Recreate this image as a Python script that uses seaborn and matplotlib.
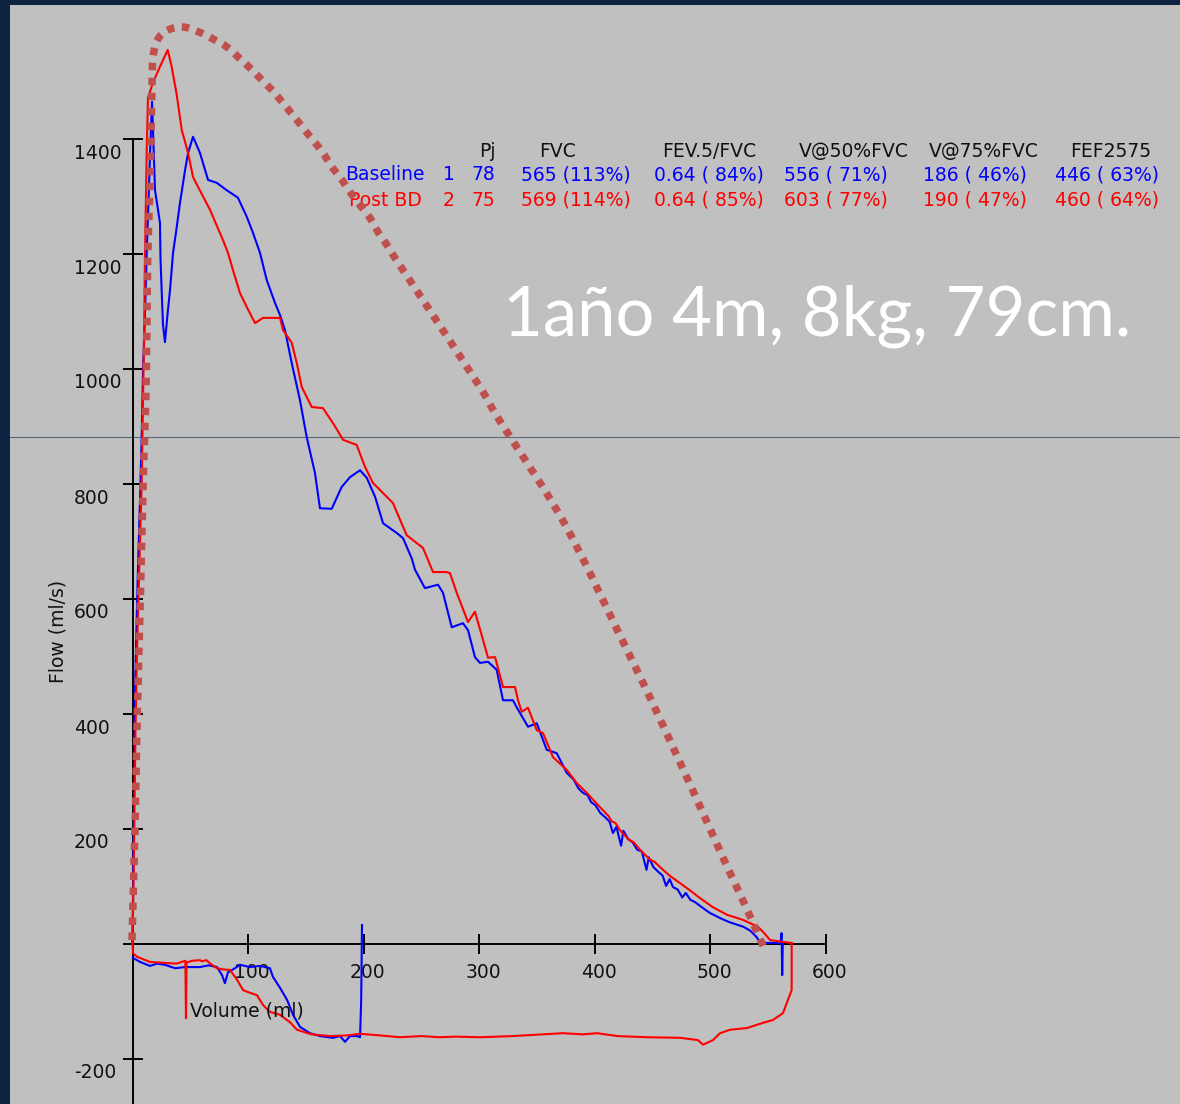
import numpy as np
import pandas as pd
import matplotlib
matplotlib.use("Agg")
import matplotlib.pyplot as plt
import matplotlib.transforms as mtransforms
import seaborn as sns

# ---------------- spirometry loops (volume in ml, flow in ml/s) ----------------
baseline_exp_vol = [0, 0.9, 1.7, 2.2, 3.6, 4.8, 6.5, 8.0, 9.1, 10.4, 12.3, 13.9, 15.2, 16.9,
                    19.5, 23.8, 24.2, 25.3, 26.4, 28.1, 30.7, 32.5, 35.1, 38.3, 41.1, 45.5,
                    48.1, 52.4, 58.4, 65.4, 72.9, 81.6, 91.3, 98.9, 104.3, 110.4, 116.2,
                    123.4, 127.7, 132.0, 137.8, 145.0, 150.8, 158.0, 162.3, 172.5, 181.1,
                    188.3, 197.0, 202.8, 210.0, 216.9, 228.7, 234.2, 241.7, 244.6, 253.2,
                    264.5, 268.8, 276.4, 286.1, 290.5, 296.5, 300.9, 307.8, 315.3, 320.8,
                    329.4, 332.6, 342.4, 350.0, 358.6, 367.3, 375.9, 382, 386, 390, 394,
                    397, 401, 405, 409, 413, 416, 419, 423, 425, 429, 433, 437, 441, 445,
                    447, 451, 455, 459, 462, 465, 468, 472, 476, 479, 483, 487, 491, 495,
                    500, 505, 510, 517, 523, 529, 535, 540, 543, 548, 556, 561, 562, 562.5, 563]
baseline_exp_flow = [0, 163, 371, 441, 563, 658, 771, 884, 997, 1067, 1201, 1293, 1375, 1464,
                     1310, 1253, 1194, 1133, 1076, 1046, 1102, 1137, 1201, 1246, 1288, 1345,
                     1375, 1403, 1375, 1328, 1323, 1310, 1297, 1264, 1236, 1201, 1154,
                     1114, 1093, 1067, 1010, 945, 881, 818, 757, 756, 794,
                     811, 823, 810, 777, 731, 714, 705, 670, 650, 618,
                     624, 610, 550, 557, 545, 498, 488, 490, 476, 423,
                     423, 411, 377, 383, 337, 331, 297, 285, 270, 262, 258,
                     246, 240, 227, 220, 212, 192, 203, 170, 196, 182, 176, 163, 160, 128,
                     150, 133, 125, 118, 100, 112, 98, 94, 80, 88, 76, 72, 66, 60,
                     53, 48, 43, 37, 33, 29, 22, 12, 3, 1, 1, 0, 18, -55, 0]

baseline_insp_vol = [0.4, 6.5, 15.2, 21, 28, 36.8, 45.5, 58.4, 66, 73.2, 77.5, 80, 82.7, 88.7,
                     93, 101.7, 110.4, 119, 121.6, 127.7, 133.8, 139, 145, 153.7, 162.3,
                     173.6, 179.7, 184, 188.3, 194.4, 197, 198, 198.7]
baseline_insp_flow = [-25, -32, -39, -35, -37, -43, -41, -41, -38, -41, -55, -69, -50, -43,
                      -37, -41, -39, -43, -58, -77, -98, -124, -145, -156, -161,
                      -164, -161, -171, -161, -161, -163, -98, 32]

postbd_exp_vol = [0, 1.3, 2.6, 3.9, 5.6, 8.0, 9.4, 10.4, 10.8, 12.3, 13.4, 17.7, 23.8, 30.5,
                  33.9, 38.3, 42.6, 48.1, 52.4, 56.7, 67.1, 78.4, 82.7, 87.0, 93.1, 98.9,
                  106.1, 113.0, 119.0, 127.7, 130.3, 137.8, 142.2, 146.5, 155.2, 164.9,
                  173.6, 182.3, 194.1, 201.3, 208.2, 225.5, 237.4, 251.5, 260.2, 272.0,
                  274.9, 280.7, 290.5, 296.5, 303.5, 307.8, 313.9, 320.8, 331.2, 333.8,
                  337.0, 342.4, 350.0, 355.4, 364.1, 375.9, 384.6, 393.3, 404.8, 412, 415,
                  418, 422.1, 430, 434, 439.4, 448, 452, 456.7, 465, 474, 483, 491.3,
                  502.6, 514.7, 528.6, 541.6, 547, 552, 563.2, 570.7]
postbd_exp_flow = [0, 163, 371, 510, 632, 806, 980, 1119, 1194, 1377, 1471, 1497, 1525, 1554,
                   1525, 1476, 1415, 1375, 1333, 1316, 1276, 1223, 1201, 1171, 1131, 1107,
                   1079, 1088, 1088, 1088, 1067, 1045, 1010, 968, 933, 931,
                   905, 876, 867, 829, 801, 766, 710, 688, 646, 646,
                   644, 610, 559, 577, 528, 497, 498, 446, 446, 423,
                   403, 410, 371, 366, 324, 302, 279, 262, 237, 222, 212,
                   210, 197, 180, 176, 163, 146, 142, 133, 118, 105, 92, 79,
                   63, 50, 41, 29, 18, 6, 2.6, 0.9]

postbd_insp_vol = [570.7, 570.7, 567.5, 563.2, 554.5, 545.9, 532, 517.3, 508.7, 502.6, 494,
                   489.6, 474, 445.5, 420, 402.2, 390, 372.7, 355, 329.4, 300.9, 280, 266,
                   250, 231.6, 215, 197, 185, 171, 155, 142.4, 136.4, 127.7, 119, 113,
                   107.8, 98, 95.7, 90.5, 84.4, 78, 73.2, 68, 64, 60, 58.4, 52, 46.8,
                   46.3, 45.8, 38, 29.9, 15, 3.9, 0.4, 0]
postbd_insp_flow = [0.9, -81, -98, -121, -133, -138, -147, -150, -156, -168, -176,
                    -168, -164, -163, -161, -156, -158, -156, -158, -161, -163, -162, -163,
                    -161, -163, -160, -157, -160, -161, -158, -150, -137, -124, -119, -107,
                    -90, -83, -81, -63, -46, -45, -43, -36, -29, -31, -29, -30, -33,
                    -130, -30, -35, -34, -32, -23, -17, 0]

x_ticks = [100, 200, 300, 400, 500, 600]
y_ticks = [1400, 1200, 1000, 800, 600, 400, 200, -200]

# ---------------- results table ----------------
table_headers = ["Pj", "FVC", "FEV.5/FVC", "V@50%FVC", "V@75%FVC", "FEF2575"]
row_names = ["Baseline", "Post BD"]
row_trial = ["1", "2"]
row_pj = ["78", "75"]
row_fvc = ["565 (113%)", "569 (114%)"]
row_fev = ["0.64 ( 84%)", "0.64 ( 85%)"]
row_v50 = ["556 ( 71%)", "603 ( 77%)"]
row_v75 = ["186 ( 46%)", "190 ( 47%)"]
row_fef = ["446 ( 63%)", "460 ( 64%)"]
patient_note = "1año 4m, 8kg, 79cm."

# ---------------- styling ----------------
W, H, DPI = 1180, 1104, 100
NAVY = "#0E2241"
PANEL = "#C0C0C0"
TRACE_COLORS = {"Baseline": "#0000FF", "Post BD": "#FF0000"}
OUTLINE = "#C0504D"
FONT = "DejaVu Sans"
FS = 13.5

plt.rcParams["font.family"] = [FONT]

fig = plt.figure(figsize=(W / DPI, H / DPI), dpi=DPI, facecolor=NAVY)
ax = fig.add_axes([10 / W, 0, (W - 10) / W, (H - 5) / H])
ax.set_facecolor(PANEL)

# pixel <-> data scaling of the panel
x0_px, px_per_ml = 132.5, 1.155
y0_px, px_per_flow = 943.5, 0.575
ax.set_xlim((10 - x0_px) / px_per_ml, (W - x0_px) / px_per_ml)
ax.set_ylim((y0_px - H) / px_per_flow, (y0_px - 5) / px_per_flow)

# loops
frames = []
for name, seg, v, f in [("Baseline", "b_exp", baseline_exp_vol, baseline_exp_flow),
                        ("Baseline", "b_insp", baseline_insp_vol, baseline_insp_flow),
                        ("Post BD", "p_exp", postbd_exp_vol, postbd_exp_flow),
                        ("Post BD", "p_insp", postbd_insp_vol, postbd_insp_flow)]:
    frames.append(pd.DataFrame({"Volume": v, "Flow": f, "trial": name, "segment": seg}))
loops = pd.concat(frames, ignore_index=True)

sns.lineplot(data=loops, x="Volume", y="Flow", hue="trial", units="segment",
             hue_order=["Baseline", "Post BD"], palette=TRACE_COLORS,
             estimator=None, sort=False, legend=False, linewidth=1.5, ax=ax)

# axes through the origin
for s in ["top", "right"]:
    ax.spines[s].set_visible(False)
ax.spines["left"].set_position(("data", 0))
ax.spines["bottom"].set_position(("data", 0))
ax.spines["left"].set_bounds(ax.get_ylim()[0], 1400)
ax.spines["bottom"].set_bounds(-7, 600)
for s in ["left", "bottom"]:
    ax.spines[s].set_linewidth(1.4)
    ax.spines[s].set_color("black")
    ax.spines[s].set_zorder(1)

ax.set_xticks(x_ticks, labels=[str(t) for t in x_ticks])
ax.set_yticks(y_ticks, labels=[str(t) for t in y_ticks])
ax.tick_params(axis="both", direction="inout", length=14.4, width=1.4, color="black",
               labelsize=FS, labelcolor="#111111")
ax.tick_params(axis="x", pad=7)
ax.tick_params(axis="y", pad=35)
for lab in ax.get_yticklabels():
    lab.set_horizontalalignment("left")
    lab.set_transform(lab.get_transform() +
                      mtransforms.ScaledTranslation(0, -12.5 / DPI, fig.dpi_scale_trans))
for lab in ax.get_xticklabels():
    lab.set_transform(lab.get_transform() +
                      mtransforms.ScaledTranslation(4 / DPI, 0, fig.dpi_scale_trans))
ax.set_xlabel("")
ax.set_ylabel("")

ax.text(50, -118, "Volume (ml)", fontsize=FS, color="#111111", ha="left", va="center")
ax.text(-64.5, 543, "Flow (ml/s)", fontsize=FS, color="#111111", rotation=90,
        ha="center", va="center")

# thin slide guide line
ax.axhline((y0_px - 437) / px_per_flow, color="#5B6878", lw=0.8, zorder=0.5)

# pixel-space transform (origin top-left)
px = mtransforms.Affine2D().scale(1, -1).translate(0, H)

# table
header_x = [479, 539, 662, 799, 929, 1070]
for hx, htxt in zip(header_x, table_headers):
    fig.text(hx, 151.7, htxt, transform=px, fontsize=FS, color="#111111",
             ha="left", va="center")
row_y = [175, 200]
for i, name in enumerate(row_names):
    c = TRACE_COLORS[name]
    y = row_y[i]
    fig.text(385, y, name, transform=px, fontsize=FS, color=c, ha="center", va="center")
    fig.text(449, y, row_trial[i], transform=px, fontsize=FS, color=c, ha="center", va="center")
    for rx, col in zip([495, 631, 764, 888, 1026.5, 1159],
                       [row_pj, row_fvc, row_fev, row_v50, row_v75, row_fef]):
        fig.text(rx, y, col[i], transform=px, fontsize=FS, color=c, ha="right", va="center")

# patient note
fig.text(503, 335, patient_note, transform=px, fontsize=49.5, color="white",
         family="Lato", ha="left", va="baseline")

# dotted highlight outline
outline_px = [(132, 940), (135, 830), (137, 727), (140, 613), (143, 487), (146, 392),
              (147, 312), (148, 247), (150, 183), (151, 137), (152, 87), (153, 57),
              (158, 39), (168, 30), (183, 27), (199, 32), (213, 39), (227, 47), (238, 57),
              (250, 68), (262, 80), (272, 90), (283, 103), (293, 115), (303, 128),
              (313, 140), (323, 153), (332, 167), (342, 180), (350, 192), (360, 205),
              (370, 218), (378, 232), (387, 245), (395, 258), (413, 285), (448, 338),
              (483, 392), (498, 418), (552, 502), (582, 557), (610, 615), (645, 687),
              (678, 758), (698, 802), (725, 862), (745, 905), (765, 950)]


def catmull_rom(pts, n=24):
    p = np.asarray(pts, float)
    p = np.vstack([2 * p[0] - p[1], p, 2 * p[-1] - p[-2]])
    t = np.linspace(0, 1, n, endpoint=False)[:, None]
    out = []
    for i in range(1, len(p) - 2):
        p0, p1, p2, p3 = p[i - 1], p[i], p[i + 1], p[i + 2]
        out.append(0.5 * (2 * p1 + (-p0 + p2) * t + (2 * p0 - 5 * p1 + 4 * p2 - p3) * t ** 2
                          + (-p0 + 3 * p1 - 3 * p2 + p3) * t ** 3))
    out.append(p[-2:-1])
    return np.vstack(out)


curve = catmull_rom(outline_px)
fig.add_artist(plt.Line2D(curve[:, 0], curve[:, 1], transform=px, color=OUTLINE,
                          lw=5.4, linestyle=(0, (1, 1)), dash_capstyle="butt",
                          solid_capstyle="butt", zorder=10))

fig.savefig("out.png", dpi=DPI, facecolor=NAVY)
